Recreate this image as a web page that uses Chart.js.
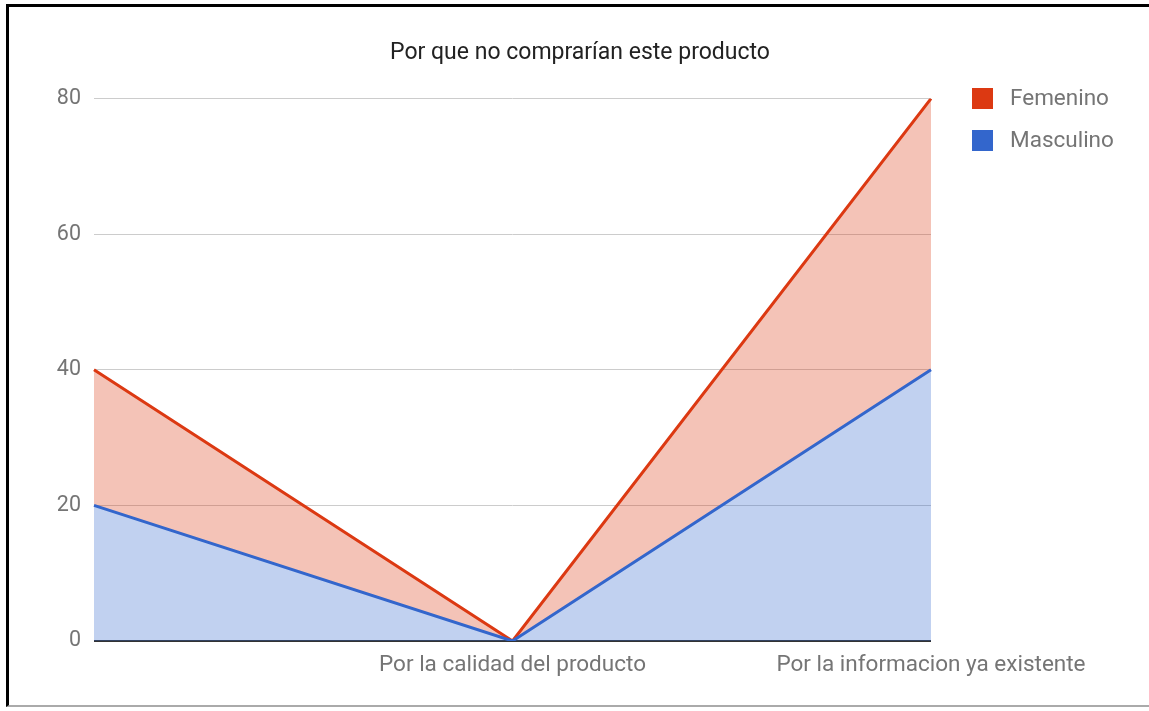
<!DOCTYPE html>
<html>
<head>
<meta charset="utf-8">
<script src="https://cdn.jsdelivr.net/npm/chart.js@4.4.1/dist/chart.umd.min.js"></script>
<style>
  html,body{margin:0;padding:0;background:#fff;}
  #wrap{position:relative;width:1149px;height:711px;overflow:hidden;}
  #frame{position:absolute;left:6px;top:4px;width:1150px;height:703px;border-left:3px solid #000;border-top:3px solid #000;border-bottom:2px solid #aaa;box-sizing:border-box;pointer-events:none;}
  canvas{position:absolute;left:0;top:0;}
</style>
</head>
<body>
<div id="wrap">
<canvas id="c" width="1149" height="711"></canvas>
<div id="frame"></div>
</div>
<script>
const categories = ["", "Por la calidad del producto", "Por la informacion ya existente"];
const femenino = [20, 0, 40];
const masculino = [20, 0, 40];
const yTicks = [0, 20, 40, 60, 80];
const titleText = "Por que no comprarían este producto";

const RED = "#dc3912", BLUE = "#3366cc";
const FONT = "Roboto, 'Liberation Sans', Arial, sans-serif";

const legendPlugin = {
  id: 'fixedLegend',
  afterDraw(chart) {
    const ctx = chart.ctx;
    const items = [...chart.data.datasets].reverse();
    ctx.save();
    ctx.font = "22.5px " + FONT;
    ctx.textBaseline = "middle";
    items.forEach((ds, i) => {
      const y = 88 + i * 42;
      ctx.fillStyle = ds.borderColor;
      ctx.fillRect(972, y, 21, 21);
      ctx.fillStyle = "#757575";
      ctx.fillText(ds.label, 1010, y + 11);
    });
    ctx.restore();
  }
};

new Chart(document.getElementById('c'), {
  type: 'line',
  data: {
    labels: categories,
    datasets: [
      { label: "Masculino", data: masculino, borderColor: BLUE, backgroundColor: "rgba(51,102,204,0.3)", fill: 'origin', borderWidth: 3, pointRadius: 0, tension: 0 },
      { label: "Femenino", data: femenino, borderColor: RED, backgroundColor: "rgba(220,57,18,0.3)", fill: '-1', borderWidth: 3, pointRadius: 0, tension: 0 }
    ]
  },
  options: {
    responsive: false,
    animation: false,
    layout: { padding: { left: 11, right: 0, top: 0, bottom: 0 } },
    plugins: {
      legend: { display: false },
      tooltip: { enabled: false },
      title: {
        display: true, text: titleText, color: "#222",
        font: { family: FONT, size: 23, weight: 'normal' },
        padding: { top: 39, bottom: 32 }
      }
    },
    scales: {
      x: {
        grid: { display: false, drawTicks: false },
        border: { display: false },
        ticks: { autoSkip: false, maxRotation: 0, color: "#757575", font: { family: FONT, size: 22.5 }, padding: 11 },
        afterFit(s) { s.height = 70; }
      },
      y: {
        stacked: true, min: 0, max: 80,
        afterBuildTicks(s) { s.ticks = yTicks.map(v => ({ value: v })); },
        grid: { drawTicks: false, color: ctx => ctx.tick && ctx.tick.value === 0 ? "#333" : "#cccccc", lineWidth: ctx => ctx.tick && ctx.tick.value === 0 ? 2 : 1 },
        border: { display: false },
        ticks: { color: "#757575", font: { family: FONT, size: 21.5 }, padding: 13 },
        afterFit(s) { s.width = 83; }
      },
      yRight: {
        position: 'right', display: true,
        grid: { display: false, drawTicks: false },
        border: { display: false },
        ticks: { display: false },
        afterFit(s) { s.width = 218; }
      }
    }
  },
  plugins: [legendPlugin]
});
</script>
</body>
</html>
